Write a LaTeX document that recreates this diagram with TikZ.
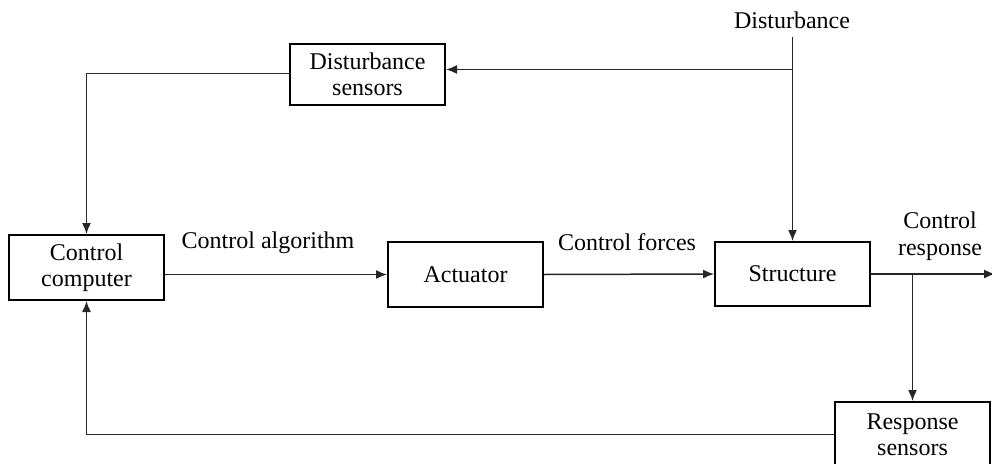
\documentclass[tikz,border=0pt]{standalone}
\usepackage{fontspec}
\setmainfont{Liberation Serif}
\usetikzlibrary{arrows.meta}

\tikzset{
  blockbox/.style={draw=black, line width=2pt, rectangle, align=center,
    inner sep=0pt, minimum width=155pt, font=\fontsize{24}{26}\selectfont},
  lbl/.style={align=center, inner sep=0pt, font=\fontsize{24}{27}\selectfont},
  conn/.style={draw=black!85, line width=1.5pt},
  arr/.style={conn, -{Latex[length=11pt,width=9pt]}}
}

\begin{document}
\begin{tikzpicture}[x=1pt,y=-1pt]
  \useasboundingbox (0,0) rectangle (992,463);

  % blocks
  \node[blockbox, minimum height=61pt] (dsens)  at (367.5,74.5)  {Disturbance\\sensors};
  \node[blockbox, minimum height=65pt] (comp)   at (86.5,267.5)  {Control\\computer};
  \node[blockbox, minimum height=65pt] (act)    at (465.5,274.5) {Actuator};
  \node[blockbox, minimum height=64pt] (struct) at (792.5,274)   {Structure};
  \node[blockbox, minimum height=65pt] (rsens)  at (912.5,434.5) {Response\\sensors};

  % free labels
  \node[lbl] (dist) at (792,20)  {Disturbance};
  \node[lbl] (alg)  at (268,243) {Control algorithm};
  \node[lbl] (frc)  at (627,242) {Control forces};
  \node[lbl] (resp) at (940,236) {Control\\response};

  \coordinate (dtop) at (792.5,37);
  \coordinate (out)  at (995,274);

  % disturbance input
  \draw[arr] (dtop) -- (struct.north);
  \draw[arr] ([yshift=5pt]struct.north |- dsens.east) -- ([yshift=5pt]dsens.east);
  \draw[arr] ([yshift=1pt]dsens.west) -| (comp.north);

  % forward path
  \draw[arr] (comp.east |- act.west) -- (act.west);
  \draw[arr] (act.east) -- (struct.west);
  \draw[arr] (struct.east) -- (out);

  % response feedback
  \draw[arr] (rsens.north |- struct.east) -- (rsens.north);
  \draw[arr] (rsens.west) -| (comp.south);
\end{tikzpicture}
\end{document}
